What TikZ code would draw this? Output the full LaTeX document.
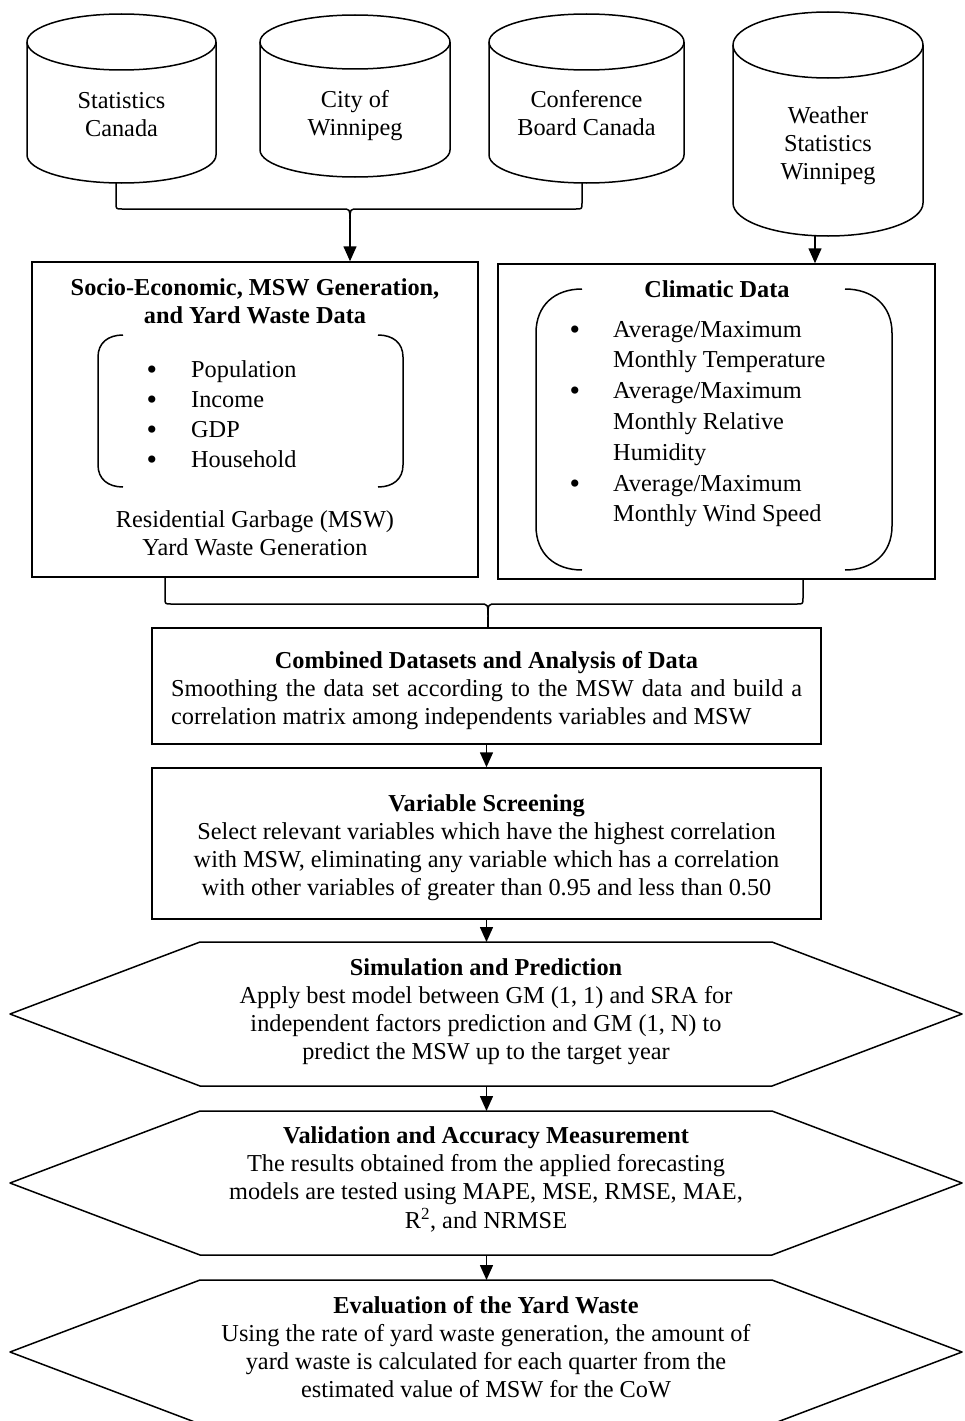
\documentclass[tikz,border=0pt]{standalone}
\usepackage{fontspec}
\setmainfont{Liberation Serif}
\usetikzlibrary{arrows.meta}
\newcommand\fsz{\fontsize{24.3}{28.2}\selectfont}
\newcommand\bul{\smash{\raisebox{-2pt}{\fontsize{30}{30}\selectfont\textbullet}}}
\newcommand\dbcyl[5]{%
  \draw[line] ({(#1+#2)/2},#3) ellipse [x radius={(#2-#1)/2}, y radius=#5];
  \draw[line] (#1,#3) -- (#1,#4) arc[start angle=180, end angle=0, x radius={(#2-#1)/2}, y radius=#5] -- (#2,#3);
}
\newcommand\hexa[3]{%
  \draw[line] (10,#2) -- (200,#1) -- (772,#1) -- (962,#2) -- (772,#3) -- (200,#3) -- cycle;
}
\begin{document}
\begin{tikzpicture}[x=1pt,y=-1pt,
  line/.style={line width=1.5pt, line join=round},
  arr/.style={line width=1.5pt, -{Triangle[length=15pt,width=13pt]}},
  box/.style={draw, line width=1.5pt, rectangle, inner sep=0pt},
  txt/.style={inner sep=0pt, anchor=base, font=\fsz},
  lst/.style={inner sep=0pt, anchor=base west},
]
\useasboundingbox (0,0) rectangle (965,1421);

% cylinders
\dbcyl{27}{216}{42}{155}{28}
\dbcyl{260}{450}{42}{150}{27}
\dbcyl{489}{684}{42}{155}{28}
\dbcyl{733}{923}{45}{203}{33}
\node[txt] (sc) at (121.5,108) {\begin{tabular}[t]{@{}c@{}}Statistics\\Canada\end{tabular}};
\node[txt] (cw) at (355,107) {\begin{tabular}[t]{@{}c@{}}City of\\Winnipeg\end{tabular}};
\node[txt] (cb) at (586.5,107) {\begin{tabular}[t]{@{}c@{}}Conference\\Board Canada\end{tabular}};
\node[txt] (ws) at (828,123) {\begin{tabular}[t]{@{}c@{}}Weather\\Statistics\\Winnipeg\end{tabular}};
\coordinate (c1o) at (116,183);
\coordinate (c3o) at (582,183);
\coordinate (c4o) at (815,236);

% boxes
\node[box, minimum width=446pt, minimum height=315pt] (lbox) at (255,419.5) {};
\node[box, minimum width=437pt, minimum height=315pt] (rbox) at (716.5,421.5) {};
\node[box, minimum width=669pt, minimum height=116pt] (comb) at (486.5,686) {};
\node[box, minimum width=669pt, minimum height=151pt] (vscr) at (486.5,843.5) {};

% top brace
\coordinate (tb) at (350,220);
\draw[line] (c1o) -- (116,203) .. controls (116,209) .. (122,209) -- (342,209) .. controls (350,209) .. (tb);
\draw[line] (c3o) -- (582,203) .. controls (582,209) .. (576,209) -- (358,209) .. controls (350,209) .. (tb);
\draw[arr] (tb) -- (tb |- lbox.north);
\draw[arr] (c4o) -- (c4o |- rbox.north);

% left box content
\node[txt] (lt) at (255,295) {\bfseries\begin{tabular}[t]{@{}c@{}}Socio-Economic, MSW Generation,\\and Yard Waste Data\end{tabular}};
\draw[line] (123,335) .. controls (108,335) and (98,343) .. (98,357) -- (98,465) .. controls (98,479) and (108,487) .. (123,487);
\draw[line] (378,335) .. controls (393,335) and (403,343) .. (403,357) -- (403,465) .. controls (403,479) and (393,487) .. (378,487);
\node[lst, font={\fontsize{24.3}{30}\selectfont}] (ll) at (146.5,377) {\begin{tabular}[t]{@{}l@{}l@{}}
\makebox[44.5pt][l]{\bul} & Population\\
\makebox[44.5pt][l]{\bul} & Income\\
\makebox[44.5pt][l]{\bul} & GDP\\
\makebox[44.5pt][l]{\bul} & Household\end{tabular}};
\node[txt] (lb) at (255,527) {\begin{tabular}[t]{@{}c@{}}Residential Garbage (MSW)\\Yard Waste Generation\end{tabular}};

% right box content
\node[txt] (rt) at (717,297) {\bfseries Climatic Data};
\draw[line] (582,289) .. controls (555,289) and (536,305) .. (536,333) -- (536,526) .. controls (536,554) and (555,570) .. (582,570);
\draw[line] (845,289) .. controls (872,289) and (892,305) .. (892,333) -- (892,526) .. controls (892,554) and (872,570) .. (845,570);
\node[lst, font={\fontsize{24.3}{30.8}\selectfont}] (rl) at (569.5,337) {\begin{tabular}[t]{@{}l@{}l@{}}
\makebox[43.5pt][l]{\bul} & Average/Maximum\\
 & Monthly Temperature\\
\makebox[43.5pt][l]{\bul} & Average/Maximum\\
 & Monthly Relative\\
 & Humidity\\
\makebox[43.5pt][l]{\bul} & Average/Maximum\\
 & Monthly Wind Speed\end{tabular}};

% bottom brace
\coordinate (bl) at (165,577);
\coordinate (br) at (803,579);
\coordinate (bb) at (488,617);
\draw[line] (bl) -- (165,598) .. controls (165,604) .. (171,604) -- (480,604) .. controls (488,604) .. (bb);
\draw[line] (br) -- (803,598) .. controls (803,604) .. (797,604) -- (496,604) .. controls (488,604) .. (bb);
\draw[line] (bb) -- (bb |- comb.north);

% combined box text
\node[txt] (ct) at (486.5,668) {\bfseries Combined Datasets and Analysis of Data};
\node[lst, font=\fsz] (cx) at (171,696) {\begin{tabular}[t]{@{}l@{}}\makebox[631pt][s]{Smoothing the data set according to the MSW data and build a}\\correlation matrix among independents variables and MSW\end{tabular}};
\draw[arr] (comb.south) -- (vscr.north);

% variable screening
\node[txt] (vt) at (486.5,811) {\begin{tabular}[t]{@{}c@{}}\textbf{Variable Screening}\\Select relevant variables which have the highest correlation\\with MSW, eliminating any variable which has a correlation\\with other variables of greater than 0.95 and less than 0.50\end{tabular}};

% hexagons
\coordinate (h1t) at (486.5,942);
\coordinate (h1b) at (486.5,1086);
\coordinate (h2t) at (486.5,1111);
\coordinate (h2b) at (486.5,1255);
\coordinate (h3t) at (486.5,1280);
\hexa{942}{1014}{1086}
\hexa{1111}{1183}{1255}
\hexa{1280}{1352}{1424}
\draw[arr] (vscr.south) -- (h1t);
\draw[arr] (h1b) -- (h2t);
\draw[arr] (h2b) -- (h3t);

\node[txt] (st) at (486,975) {\begin{tabular}[t]{@{}c@{}}\textbf{Simulation and Prediction}\\Apply best model between GM (1, 1) and SRA for\\independent factors prediction and GM (1, N) to\\predict the MSW up to the target year\end{tabular}};
\node[txt] (vat) at (486,1143) {\begin{tabular}[t]{@{}c@{}}\textbf{Validation and Accuracy Measurement}\\The results obtained from the applied forecasting\\models are tested using MAPE, MSE, RMSE, MAE,\\R\textsuperscript{2}, and NRMSE\end{tabular}};
\node[txt] (et) at (486,1313) {\begin{tabular}[t]{@{}c@{}}\textbf{Evaluation of the Yard Waste}\\Using the rate of yard waste generation, the amount of\\yard waste is calculated for each quarter from the\\estimated value of MSW for the CoW\end{tabular}};
\end{tikzpicture}
\end{document}
